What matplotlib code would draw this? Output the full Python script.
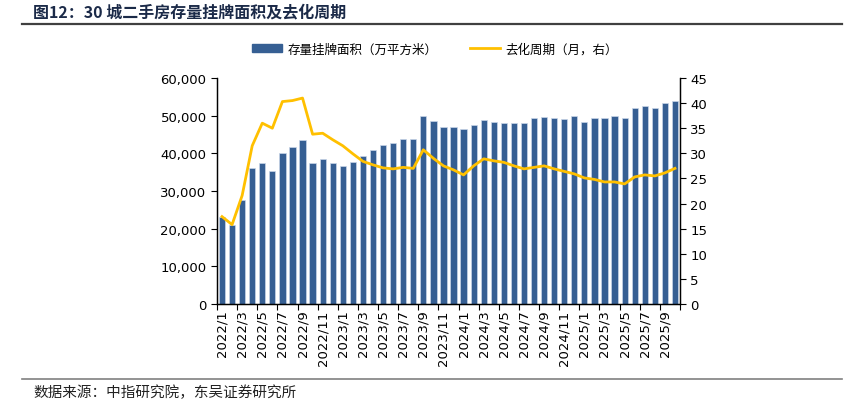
import numpy as np
import matplotlib
matplotlib.use('Agg')
import matplotlib.pyplot as plt
from matplotlib.lines import Line2D
from matplotlib.patches import Patch

plt.rcParams['font.family'] = ['Noto Sans CJK SC', 'DejaVu Sans']

# 2022/1 .. 2025/10, monthly
months = ['%d/%d' % (2022 + i // 12, i % 12 + 1) for i in range(46)]

listing_area = [23200, 21000, 27700, 36100, 37500, 35400, 40100, 41800, 43500, 37500,
                38400, 37300, 36600, 37600, 39300, 40900, 42100, 42800, 43700, 43700,
                49900, 48500, 47100, 46900, 46500, 47500, 48800, 48300, 48100, 48100,
                48100, 49300, 49700, 49300, 49100, 49900, 48400, 49300, 49300, 49800,
                49400, 51900, 52600, 51900, 53400, 53900]

destock_cycle = [17.4, 15.8, 21.6, 31.5, 36.0, 35.0, 40.3, 40.5, 41.0, 33.8,
                 34.0, 32.7, 31.5, 29.9, 28.4, 27.7, 27.1, 26.9, 27.2, 27.0,
                 30.7, 29.0, 27.5, 26.7, 25.7, 27.5, 28.9, 28.5, 28.2, 27.5,
                 26.9, 27.2, 27.5, 26.9, 26.4, 25.9, 25.1, 24.8, 24.3, 24.3,
                 23.9, 25.3, 25.7, 25.5, 26.1, 27.0]

bar_color = '#365F93'
line_color = '#FFC000'

fig = plt.figure(figsize=(8.59, 4.06), dpi=100)
ax = fig.add_axes([0.2526, 0.2488, 0.539, 0.5567])
ax2 = ax.twinx()

x = np.arange(len(months))
ax.bar(x, listing_area, width=0.62, color=bar_color, edgecolor='#C9D6E8', linewidth=0.5, zorder=2)
ax2.plot(x, destock_cycle, color=line_color, linewidth=2.0, solid_joinstyle='round', zorder=3)

ax.set_xlim(-0.5, len(months) - 0.5)
ax.set_ylim(0, 60000)
ax.set_yticks(np.arange(0, 60001, 10000))
ax.set_yticklabels(['{:,}'.format(v) for v in range(0, 60001, 10000)])
ax2.set_ylim(0, 45)
ax2.set_yticks(np.arange(0, 46, 5))

# ticks at category boundaries every two months, labels on odd months
ax.set_xticks(np.arange(-0.5, len(months), 2))
ax.set_xticklabels([])
ax.set_xticks(x[::2], minor=True)
ax.set_xticklabels(months[::2], minor=True, rotation=90, fontsize=9.5, family='DejaVu Sans')
ax.tick_params(axis='x', which='minor', length=0, pad=4)
ax.tick_params(axis='x', which='major', length=4, direction='out', width=0.8)
ax.tick_params(axis='y', length=4, direction='out', width=0.8, labelsize=9.5)
ax2.tick_params(axis='y', length=4, direction='out', width=0.8, labelsize=9.5)
for lab in ax.get_yticklabels() + ax2.get_yticklabels():
    lab.set_family('DejaVu Sans')

for a in (ax, ax2):
    a.spines['top'].set_visible(False)
    for s in ('left', 'right', 'bottom'):
        a.spines[s].set_linewidth(0.9)
ax.set_zorder(ax2.get_zorder() - 1)
ax2.patch.set_visible(False)
ax.patch.set_visible(False)

handles = [Patch(color=bar_color), Line2D([], [], color=line_color, linewidth=2)]
fig.legend(handles, ['存量挂牌面积（万平方米）', '去化周期（月，右）'],
           loc='center', bbox_to_anchor=(0.506, 0.877), ncol=2, frameon=False,
           fontsize=9, handlelength=2.4, handleheight=0.5, columnspacing=2.6, handletextpad=0.45)

fig.text(33 / 859, 1 - 12 / 406, '图12：30 城二手房存量挂牌面积及去化周期', fontsize=11.5,
         fontweight='bold', color='#1B2A48', va='center', ha='left')
fig.add_artist(Line2D([22 / 859, 842 / 859], [1 - 25 / 406, 1 - 25 / 406], color='#404040', linewidth=1.6))
fig.add_artist(Line2D([22 / 859, 842 / 859], [1 - 380 / 406, 1 - 380 / 406], color='#808080', linewidth=1.2))
fig.text(33 / 859, 1 - 393 / 406, '数据来源：中指研究院，东吴证券研究所', fontsize=10.5,
         color='#222222', va='center', ha='left')

fig.savefig('out.png', dpi=100)
